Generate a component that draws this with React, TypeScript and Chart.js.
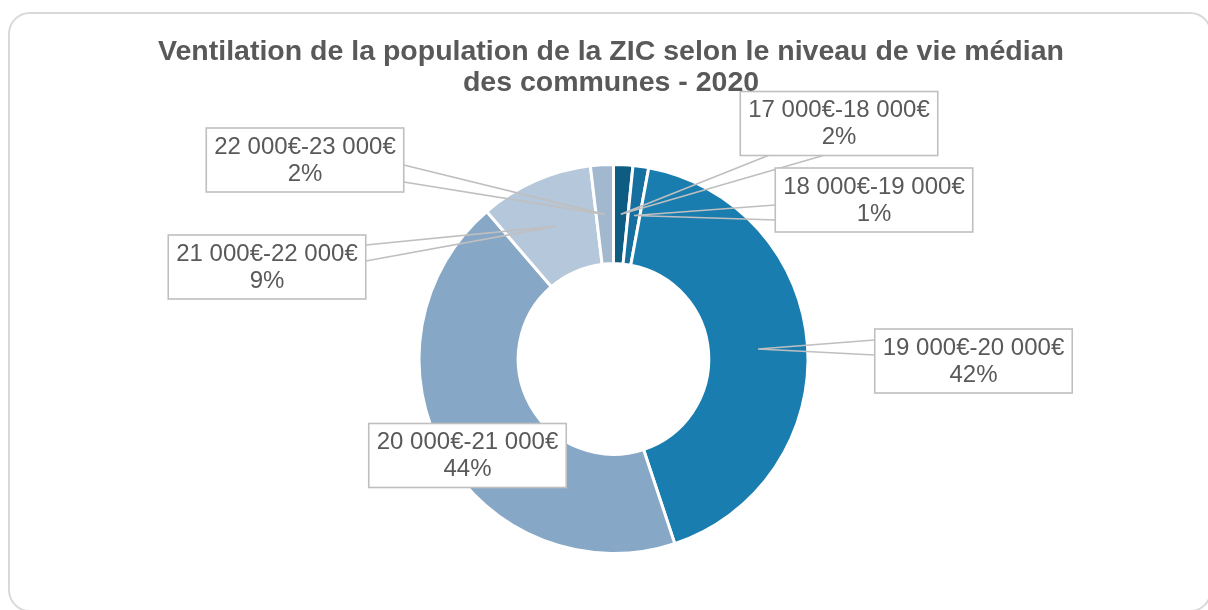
import React, { useEffect, useRef } from "react";
import { Chart, registerables } from "chart.js";

Chart.register(...registerables);

const categories = [
  "17 000€-18 000€",
  "18 000€-19 000€",
  "19 000€-20 000€",
  "20 000€-21 000€",
  "21 000€-22 000€",
  "22 000€-23 000€",
];
const shares = [1.6, 1.3, 42.0, 43.8, 9.4, 1.9];
const sliceColors = ["#0f5c82", "#1570a0", "#1a7db0", "#87a7c6", "#b5c7da", "#a2b8cf"];
const titleLines = [
  "Ventilation de la population de la ZIC selon le niveau de vie médian",
  "des communes - 2020",
];

// callout placement: box centre offset from the doughnut centre, wedge side and base range along that side
const calloutLayout = [
  { dx: 225.5, dy: -235.5, side: "bottom", a: 28, b: 83 },
  { dx: 260.5, dy: -159, side: "left", a: 37, b: 52 },
  { dx: 360, dy: 2, side: "left", a: 11, b: 26 },
  { dx: -146, dy: 96.5, side: "none", a: 0, b: 0 },
  { dx: -346.5, dy: -92, side: "right", a: 10, b: 26 },
  { dx: -308.5, dy: -199, side: "right", a: 37, b: 54 },
];

const TEXT_COLOR = "#595959";
const LINE_COLOR = "#bfbfbf";

const titlePlugin = {
  id: "customTitle",
  afterDraw(chart: any) {
    const ctx = chart.ctx;
    ctx.save();
    ctx.fillStyle = TEXT_COLOR;
    ctx.font = "bold 28.5px 'Liberation Sans', Arial, sans-serif";
    ctx.textAlign = "center";
    ctx.textBaseline = "middle";
    ctx.fillText(titleLines[0], 611, 52);
    ctx.fillText(titleLines[1], 611, 83);
    ctx.restore();
  },
};

const calloutPlugin = {
  id: "callouts",
  afterDatasetsDraw(chart: any) {
    const ctx = chart.ctx;
    const meta = chart.getDatasetMeta(0);
    const total = shares.reduce((s, v) => s + v, 0);
    ctx.save();
    ctx.font = "24px 'Liberation Sans', Arial, sans-serif";
    meta.data.forEach((arc: any, i: number) => {
      const lay = calloutLayout[i];
      const tip = arc.getCenterPoint();
      const l1 = categories[i];
      const l2 = Math.round((shares[i] / total) * 100) + "%";
      const w = Math.max(ctx.measureText(l1).width, ctx.measureText(l2).width) + 16;
      const h = 64;
      const bx = arc.x + lay.dx - w / 2;
      const by = arc.y + lay.dy - h / 2;
      ctx.strokeStyle = LINE_COLOR;
      ctx.lineWidth = 1.6;
      if (lay.side !== "none") {
        let p1: number[];
        let p2: number[];
        if (lay.side === "bottom") {
          p1 = [bx + lay.a, by + h];
          p2 = [bx + lay.b, by + h];
        } else if (lay.side === "left") {
          p1 = [bx, by + lay.a];
          p2 = [bx, by + lay.b];
        } else {
          p1 = [bx + w, by + lay.a];
          p2 = [bx + w, by + lay.b];
        }
        ctx.beginPath();
        ctx.moveTo(p1[0], p1[1]);
        ctx.lineTo(tip.x, tip.y);
        ctx.lineTo(p2[0], p2[1]);
        ctx.stroke();
      }
      ctx.fillStyle = "#ffffff";
      ctx.fillRect(bx, by, w, h);
      ctx.strokeRect(bx, by, w, h);
      ctx.fillStyle = TEXT_COLOR;
      ctx.textAlign = "center";
      ctx.textBaseline = "middle";
      ctx.fillText(l1, bx + w / 2, by + h / 2 - 13);
      ctx.fillText(l2, bx + w / 2, by + h / 2 + 14);
    });
    ctx.restore();
  },
};

export default function App() {
  const canvasRef = useRef<HTMLCanvasElement | null>(null);

  useEffect(() => {
    if (!canvasRef.current) return;
    const chart = new Chart(canvasRef.current, {
      type: "doughnut",
      data: {
        labels: categories,
        datasets: [
          {
            data: shares,
            backgroundColor: sliceColors,
            borderColor: "#ffffff",
            borderWidth: 3,
          },
        ],
      },
      options: {
        responsive: false,
        animation: false,
        cutout: "49%",
        layout: { padding: { top: 163, bottom: 55, left: 19, right: 0 } },
        plugins: {
          legend: { display: false },
          tooltip: { enabled: false },
          title: { display: false },
        },
      },
      plugins: [calloutPlugin, titlePlugin],
    });
    return () => chart.destroy();
  }, []);

  return (
    <div style={{ position: "fixed", left: 0, top: 0, width: 1208, height: 610, background: "#ffffff", overflow: "hidden" }}>
      <div
        style={{
          position: "absolute",
          left: 8,
          top: 12,
          width: 1204,
          height: 600,
          border: "2px solid #d9d9d9",
          borderRadius: 22,
          boxSizing: "border-box",
        }}
      />
      <canvas ref={canvasRef} width={1208} height={610} style={{ position: "absolute", left: 0, top: 0 }} />
    </div>
  );
}
